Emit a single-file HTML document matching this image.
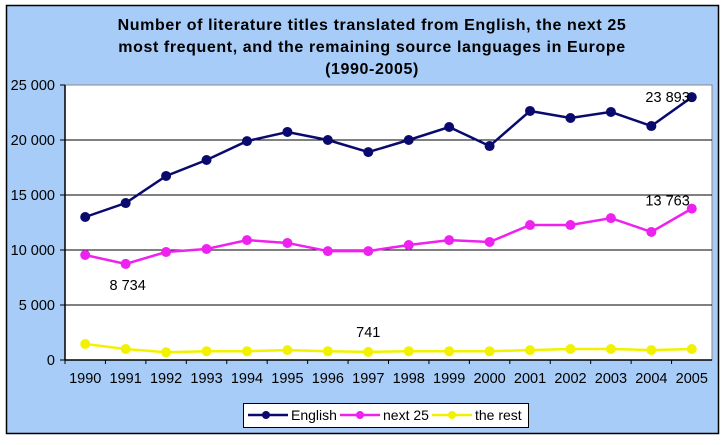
<!DOCTYPE html>
<html><head><meta charset="utf-8"><style>
body{margin:0;background:#fff;font-family:"Liberation Sans",Arial,sans-serif}
svg text{font-family:"Liberation Sans",Arial,sans-serif}
</style></head><body>
<svg id="c" width="726" height="440" xmlns="http://www.w3.org/2000/svg">
<rect x="6.5" y="5.5" width="712" height="428" fill="#a6ccf7" stroke="#000" stroke-width="1.5"/>
<g font-size="16" font-weight="bold" letter-spacing="0.6" text-anchor="middle">
<text x="372" y="30">Number of literature titles translated from English, the next 25</text>
<text x="372" y="52">most frequent, and the remaining source languages in Europe</text>
<text x="372" y="74">(1990-2005)</text>
</g>
<rect x="65" y="85" width="647" height="275" fill="#fff" stroke="#888"/>
<g id="grid"></g><g id="axes"></g><g id="series"></g>
<g>
<rect x="243.5" y="403.5" width="285" height="24" fill="#fff" stroke="#000"/>
<line x1="248" y1="415" x2="288" y2="415" stroke="#0a0a6e" stroke-width="2.5"/><circle cx="266" cy="415" r="4" fill="#0a0a6e"/>
<text x="291" y="420" font-size="14">English</text>
<line x1="340" y1="415" x2="380" y2="415" stroke="#ee22ee" stroke-width="2.5"/><circle cx="360" cy="415" r="4" fill="#ee22ee"/>
<text x="383" y="420" font-size="14">next 25</text>
<line x1="432" y1="415" x2="472" y2="415" stroke="#f2f200" stroke-width="2.5"/><circle cx="452" cy="415" r="4" fill="#f2f200"/>
<text x="475" y="420" font-size="14">the rest</text>
</g>
</svg>
<script>
const years=["1990","1991","1992","1993","1994","1995","1996","1997","1998","1999","2000","2001","2002","2003","2004","2005"];
const english=[13000,14270,16730,18180,19900,20730,20000,18900,20000,21180,19450,22640,22000,22550,21270,23893];
const next25=[9545,8734,9820,10090,10900,10640,9900,9900,10450,10900,10730,12270,12270,12900,11640,13763];
const theRest=[1450,1000,700,800,800,900,800,741,800,800,800,900,1000,1000,900,1000];
const yTicks=[0,5000,10000,15000,20000,25000];
const yTickLabels=["0","5 000","10 000","15 000","20 000","25 000"];
const NS="http://www.w3.org/2000/svg";
const X0=65,W=647,Y0=360,H=275,YMAX=25000;
const xs=i=>X0+W/years.length*(i+0.5);
const ys=v=>Y0-v/YMAX*H;
function mk(t,a,p){const e=document.createElementNS(NS,t);for(const k in a)e.setAttribute(k,a[k]);p.appendChild(e);return e;}
const grid=document.getElementById('grid'),axes=document.getElementById('axes'),ser=document.getElementById('series');
yTicks.forEach((v,i)=>{
  if(v>0&&v<YMAX){const g=mk('line',{x1:X0,x2:X0+W,y1:ys(v),y2:ys(v),stroke:'#000','stroke-width':1},grid);
  
  }
  mk('line',{x1:X0-5,x2:X0,y1:ys(v),y2:ys(v),stroke:'#000'},axes);
  const t=mk('text',{x:X0-10,y:ys(v)+5,'text-anchor':'end','font-size':14.5},axes);t.textContent=yTickLabels[i];
  
  
});
mk('line',{x1:X0,x2:X0,y1:85,y2:Y0,stroke:'#000','stroke-width':1.5},axes);
mk('line',{x1:X0,x2:X0+W,y1:Y0,y2:Y0,stroke:'#000','stroke-width':1.5},axes);
years.forEach((y,i)=>{
  mk('line',{x1:X0+W/years.length*i,x2:X0+W/years.length*i,y1:Y0,y2:Y0+4,stroke:'#000'},axes);
  const t=mk('text',{x:xs(i),y:Y0+23,'text-anchor':'middle','font-size':14.5},axes);t.textContent=y;
  
  
});
function series(vals,col,name){
  const p=mk('polyline',{points:vals.map((v,i)=>xs(i)+','+ys(v)).join(' '),fill:'none',stroke:col,'stroke-width':2.5},ser);
  
  
  vals.forEach((v,i)=>{const c=mk('circle',{cx:xs(i),cy:ys(v),r:5,fill:col},ser);
    
    });
}
series(theRest,'#f2f200','the-rest');
series(next25,'#ee22ee','next25');
series(english,'#0a0a6e','english');
function lab(txt,x,y,anchor){const t=mk('text',{x:x,y:y,'text-anchor':anchor,'font-size':14.5},ser);t.textContent=txt;
  
  }
lab('23 893',xs(15)-2,ys(english[15])+5,'end');
lab('13 763',xs(15)-2,ys(next25[15])-3,'end');
lab('8 734',xs(1)+2,ys(next25[1])+26,'middle');
lab('741',xs(7),ys(theRest[7])-15,'middle');
</script>
</body></html>
